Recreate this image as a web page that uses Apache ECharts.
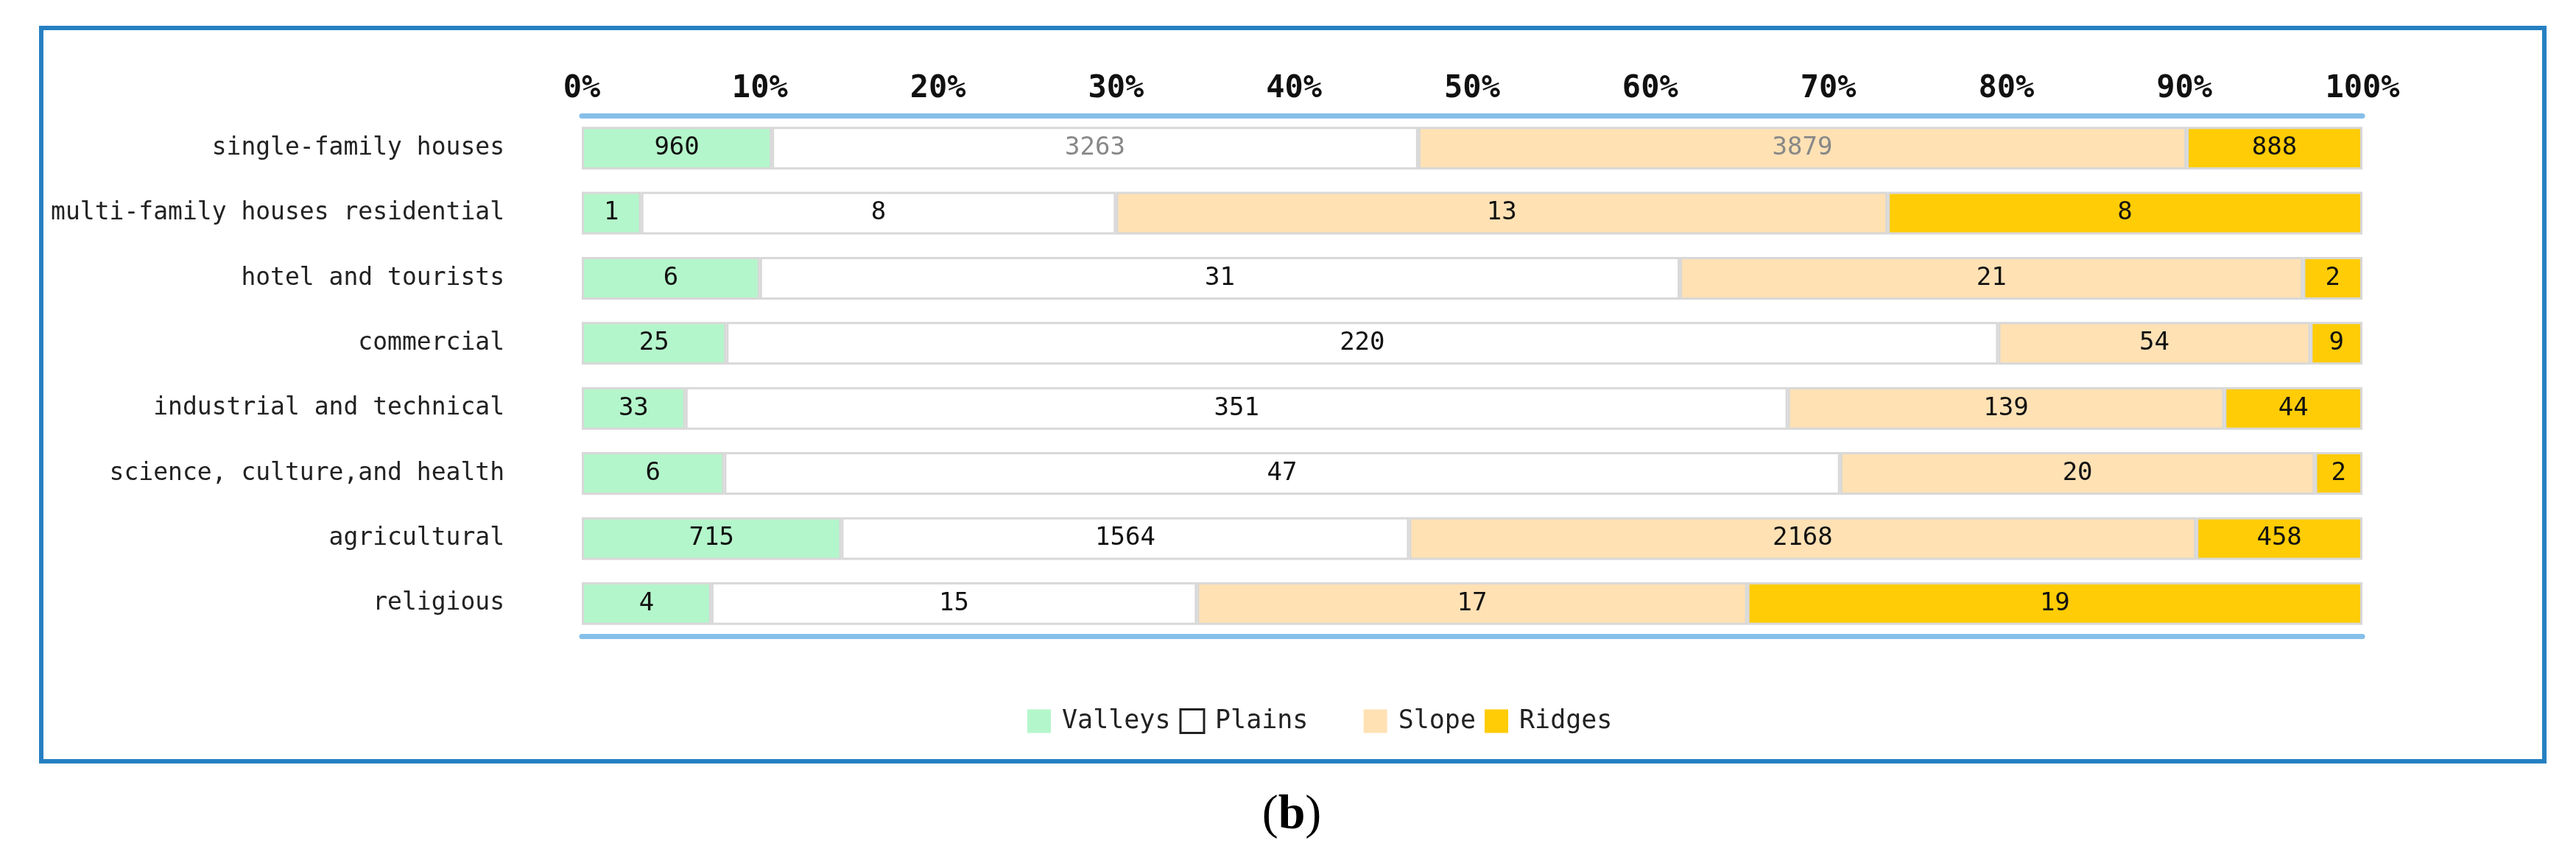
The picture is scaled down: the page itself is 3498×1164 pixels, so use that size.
<!DOCTYPE html>
<html>
<head>
<meta charset="utf-8">
<script src="https://cdn.jsdelivr.net/npm/echarts@6/dist/echarts.min.js"></script>
<style>
html,body{margin:0;padding:0;background:#fff;}
#chart{width:3498px;height:1164px;}
</style>
</head>
<body>
<div id="chart"></div>
<script>
const categories = ['single-family houses','multi-family houses residential','hotel and tourists','commercial','industrial and technical','science, culture,and health','agricultural','religious'];
const seriesNames = ['Valleys','Plains','Slope','Ridges'];
const valleys = [960,1,6,25,33,6,715,4];
const plains  = [3263,8,31,220,351,47,1564,15];
const slope   = [3879,13,21,54,139,20,2168,17];
const ridges  = [888,8,2,9,44,2,458,19];

const counts = [valleys, plains, slope, ridges];
const colors = ['#b4f6cb','#ffffff','#ffe1b4','#ffcc05'];
const totals = categories.map((c,i)=>counts.reduce((s,a)=>s+a[i],0));
const mono = 'DejaVu Sans Mono';

const chart = echarts.init(document.getElementById('chart'));
const series = counts.map((arr,si)=>({
  name: seriesNames[si],
  type:'bar',
  stack:'total',
  barWidth:58,
  itemStyle:{color:colors[si], borderColor:'#d8d8d8', borderWidth:3},
  label:{
    show:true, position:'inside', fontFamily:mono, fontSize:34, color:'#111',
    formatter:(p)=>String(arr[p.dataIndex])
  },
  data: arr.map((v,i)=>{
    const d = {value: v/totals[i]*100};
    if(i===0 && (si===1||si===2)) d.label = {color:'#888'};
    return d;
  })
}));

const axisLineStyle = {show:true, lineStyle:{color:'#86bfea', width:7}};
chart.setOption({
  animation:false,
  backgroundColor:'#fff',
  grid:{left:790, right:290, top:157, bottom:300},
  xAxis:[
    {type:'value', position:'top', min:0, max:100, interval:10,
     axisLine:axisLineStyle, axisTick:{show:false}, splitLine:{show:false},
     axisLabel:{formatter:'{value}%', fontFamily:mono, fontSize:42, fontWeight:'bold', color:'#111', margin:15}},
    {type:'value', position:'bottom', min:0, max:100, interval:10,
     axisLine:axisLineStyle, axisTick:{show:false}, splitLine:{show:false}, axisLabel:{show:false}}
  ],
  yAxis:{type:'category', inverse:true, data:categories,
    axisLine:{show:false}, axisTick:{show:false},
    axisLabel:{fontFamily:mono, fontSize:33, color:'#222', margin:105}},
  legend:{
    left:1390, top:957, itemWidth:32, itemHeight:32, itemGap:12, icon:'rect',
    itemStyle:{borderWidth:0},
    formatter:(n)=> n==='Plains' ? n+'   ' : n,
    textStyle:{fontFamily:mono, fontSize:35, color:'#222', padding:[0,0,0,10]},
    data:[
      {name:'Valleys'},
      {name:'Plains', itemStyle:{color:'#ffffff', borderColor:'#222', borderWidth:3}},
      {name:'Slope'},
      {name:'Ridges'}
    ]
  },
  graphic:[
    {type:'rect', shape:{x:56, y:38, width:3399, height:996},
     style:{fill:'none', stroke:'#2680c2', lineWidth:6}, silent:true},
    {type:'text', x:1754, y:1108,
     style:{text:'{a|(}{b|b}{a|)}', align:'center', verticalAlign:'middle',
       rich:{a:{fontFamily:'Liberation Serif', fontSize:66, fontWeight:'normal', fill:'#000'},
             b:{fontFamily:'Liberation Serif', fontSize:66, fontWeight:'bold', fill:'#000'}}}}
  ],
  series: series
});
</script>
</body>
</html>
